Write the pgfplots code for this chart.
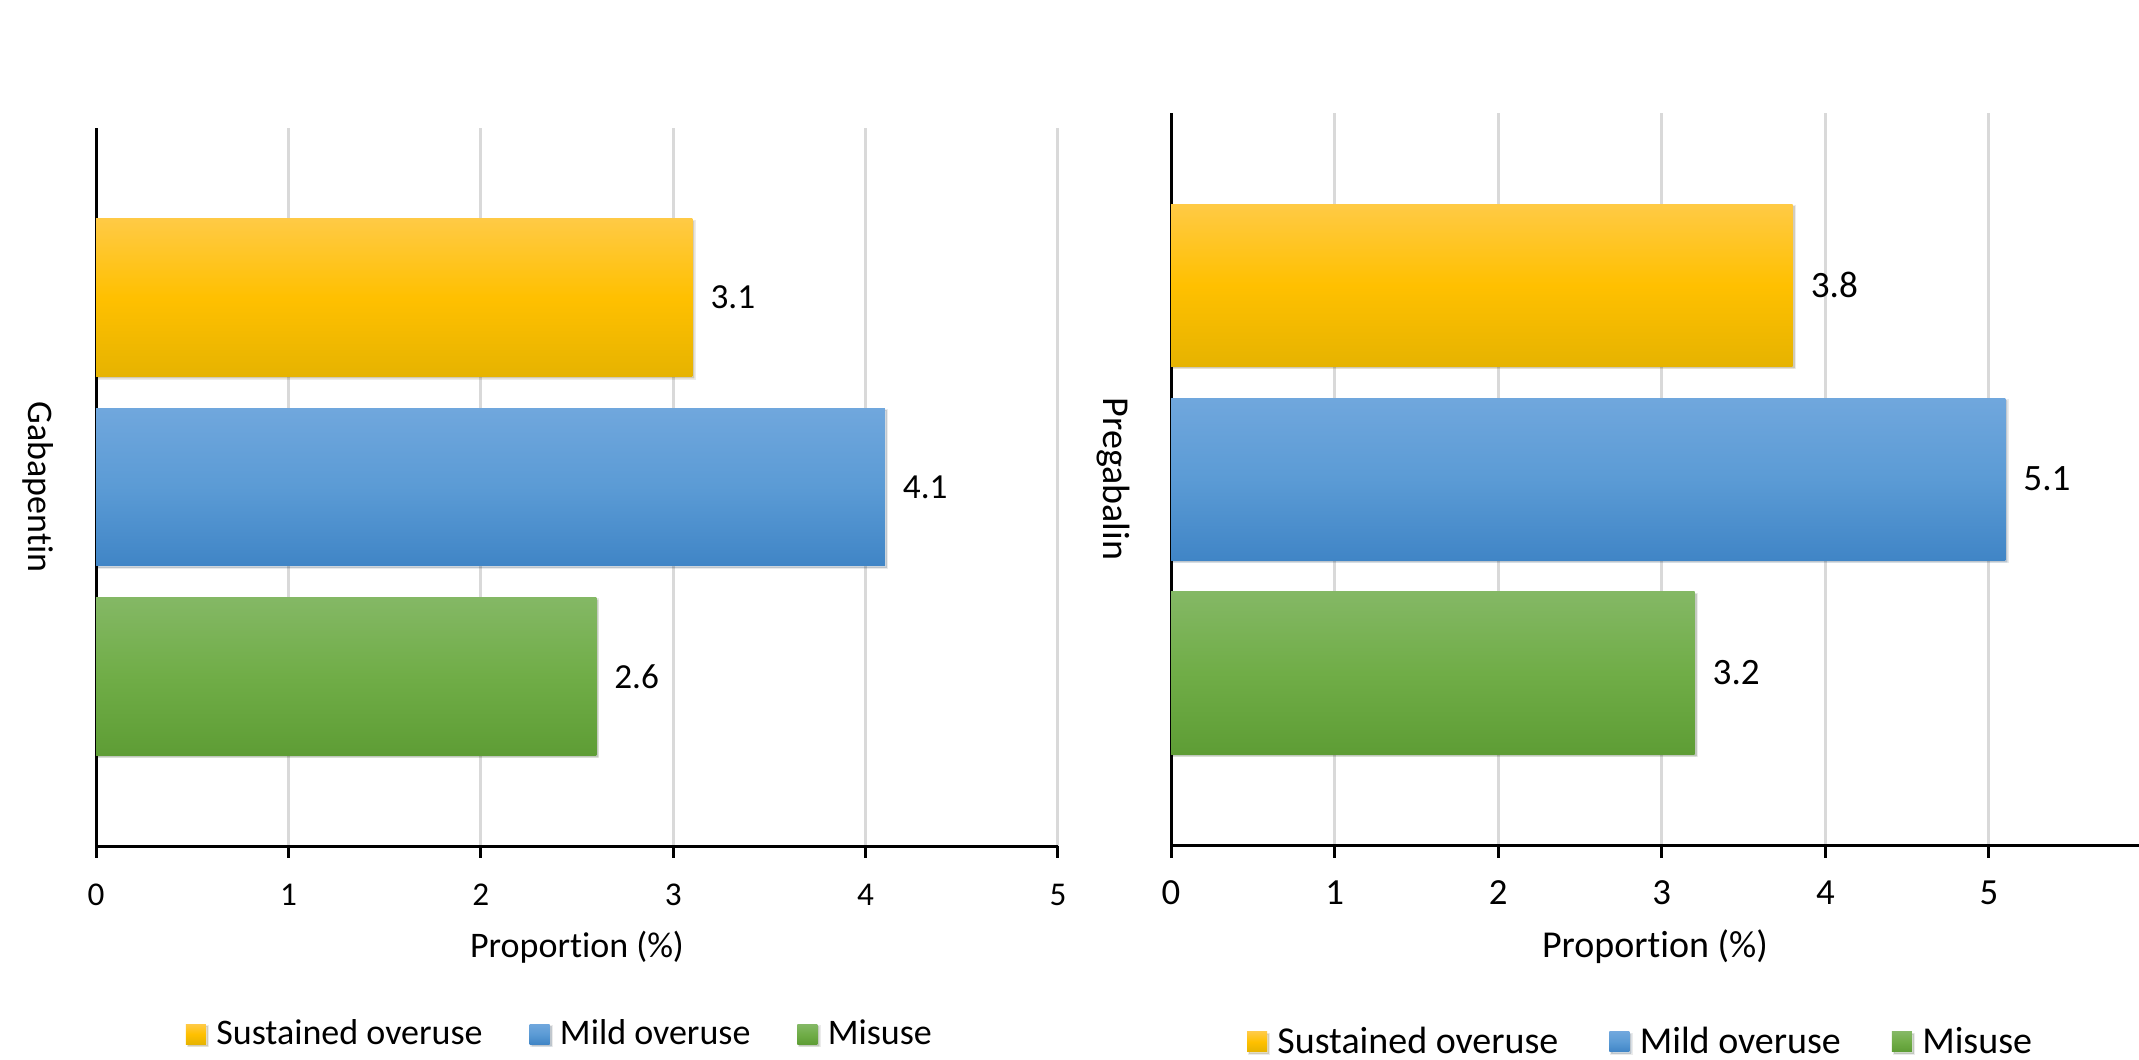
\documentclass[border=0pt]{standalone}
\usepackage{pgfplots}
\pgfplotsset{compat=1.18}
\usepackage{fontspec}
\setmainfont{Carlito}[Ligatures={NoCommon}]
\definecolor{yTop}{HTML}{FFCA45}
\definecolor{yMid}{HTML}{FFC000}
\definecolor{yBot}{HTML}{E6B300}
\definecolor{bTop}{HTML}{70A7DD}
\definecolor{bMid}{HTML}{5B9BD5}
\definecolor{bBot}{HTML}{4085C6}
\definecolor{gTop}{HTML}{84B865}
\definecolor{gMid}{HTML}{70AD47}
\definecolor{gBot}{HTML}{5E9D35}
\definecolor{gridgray}{HTML}{D9D9D9}
\pgfplotsset{
  mybase/.style={
    scale only axis, anchor=south west, clip=false,
    xmin=0,
    axis x line*=bottom, axis y line*=left,
    axis line style={-, black, line width=0.75pt},
    xtick={0,1,2,3,4,5}, ytick=\empty,
    tick align=outside, major tick length=3pt,
    tick style={black, line width=0.75pt},
    xmajorgrids, major grid style={gridgray, line width=0.75pt},
    /pgf/number format/assume math mode=true,
    xticklabel style={anchor=base, yshift=-11.75pt},
    point meta=x,
    nodes near coords, nodes near coords align=horizontal,
    every node near coord/.append style={anchor=west, xshift=1pt, text=black},
    legend columns=3,
  },
  shadowS/.style={preaction={fill=black, fill opacity=0.12, draw=black, draw opacity=0.08, line width=0.6pt, transform canvas={xshift=0.5pt, yshift=-0.5pt}}},
  ybarS/.style={xbar, bar shift=0pt, draw=none, shadowS, top color=yTop, bottom color=yBot, middle color=yMid,
    legend image code/.code={\path[draw=none, top color=yTop, bottom color=yBot, middle color=yMid] (0pt,-2.2pt) rectangle (5pt,2.8pt);}},
  bbarS/.style={xbar, bar shift=0pt, draw=none, shadowS, top color=bTop, bottom color=bBot, middle color=bMid,
    legend image code/.code={\path[draw=none, top color=bTop, bottom color=bBot, middle color=bMid] (0pt,-2.2pt) rectangle (5pt,2.8pt);}},
  gbarS/.style={xbar, bar shift=0pt, draw=none, shadowS, top color=gTop, bottom color=gBot, middle color=gMid,
    legend image code/.code={\path[draw=none, top color=gTop, bottom color=gBot, middle color=gMid] (0pt,-2.2pt) rectangle (5pt,2.8pt);}},
}
\begin{document}
\begin{tikzpicture}
\useasboundingbox (0,0) rectangle (534.75pt,264.75pt);
% Left panel: Gabapentin
\begin{axis}[mybase,
  at={(24.03pt,53.25pt)}, width=240.45pt, height=179.5pt,
  xmax=5, ymin=0.1046, ymax=3.8954, bar width=0.8316,
  tick label style={font=\fontsize{8.3}{10}\selectfont},
  nodes near coords style={font=\fontsize{8.8}{10}\selectfont},
  legend style={draw=none, fill=none, inner sep=0pt, outer sep=0pt,
    at={(0.0934,-0.2638)}, anchor=west,
    font=\fontsize{9}{11}\selectfont,
    nodes={inner xsep=0pt},
    /tikz/every odd column/.append style={column sep=2.6pt},
    /tikz/every even column/.append style={column sep=11.75pt}},
]
\addplot[ybarS] coordinates {(3.1,3)};
\addlegendentry{Sustained overuse}
\addplot[bbarS] coordinates {(4.1,2)};
\addlegendentry{Mild overuse}
\addplot[gbarS] coordinates {(2.6,1)};
\addlegendentry{Misuse}
\node[rotate=-90, font=\fontsize{9}{11}\selectfont] at (axis description cs:-0.0604,0.5) {Gabapentin};
\node[anchor=base, font=\fontsize{9}{11}\selectfont] at (axis description cs:0.5,0) [yshift=-27.75pt] {Proportion (\%)};
\end{axis}
% Right panel: Pregabalin
\begin{axis}[mybase,
  at={(292.75pt,53.375pt)}, width=242pt, height=183.2pt,
  xmax=5.917, ymin=0.1104, ymax=3.8896, bar width=0.8364,
  tick label style={font=\fontsize{9.2}{11}\selectfont},
  nodes near coords style={font=\fontsize{9.3}{11}\selectfont},
  legend style={draw=none, fill=none, inner sep=0pt, outer sep=0pt,
    at={(0.0785,-0.2695)}, anchor=west,
    font=\fontsize{9.5}{11}\selectfont,
    nodes={inner xsep=0pt},
    /tikz/every odd column/.append style={column sep=2.6pt},
    /tikz/every even column/.append style={column sep=12.75pt}},
]
\addplot[ybarS] coordinates {(3.8,3)};
\addlegendentry{Sustained overuse}
\addplot[bbarS] coordinates {(5.1,2)};
\addlegendentry{Mild overuse}
\addplot[gbarS] coordinates {(3.2,1)};
\addlegendentry{Misuse}
\node[rotate=-90, font=\fontsize{9.5}{11}\selectfont] at (axis description cs:-0.0599,0.5) {Pregabalin};
\node[anchor=base, font=\fontsize{9.5}{11}\selectfont] at (axis description cs:0.5,0) [yshift=-28pt] {Proportion (\%)};
\end{axis}
\end{tikzpicture}
\end{document}
